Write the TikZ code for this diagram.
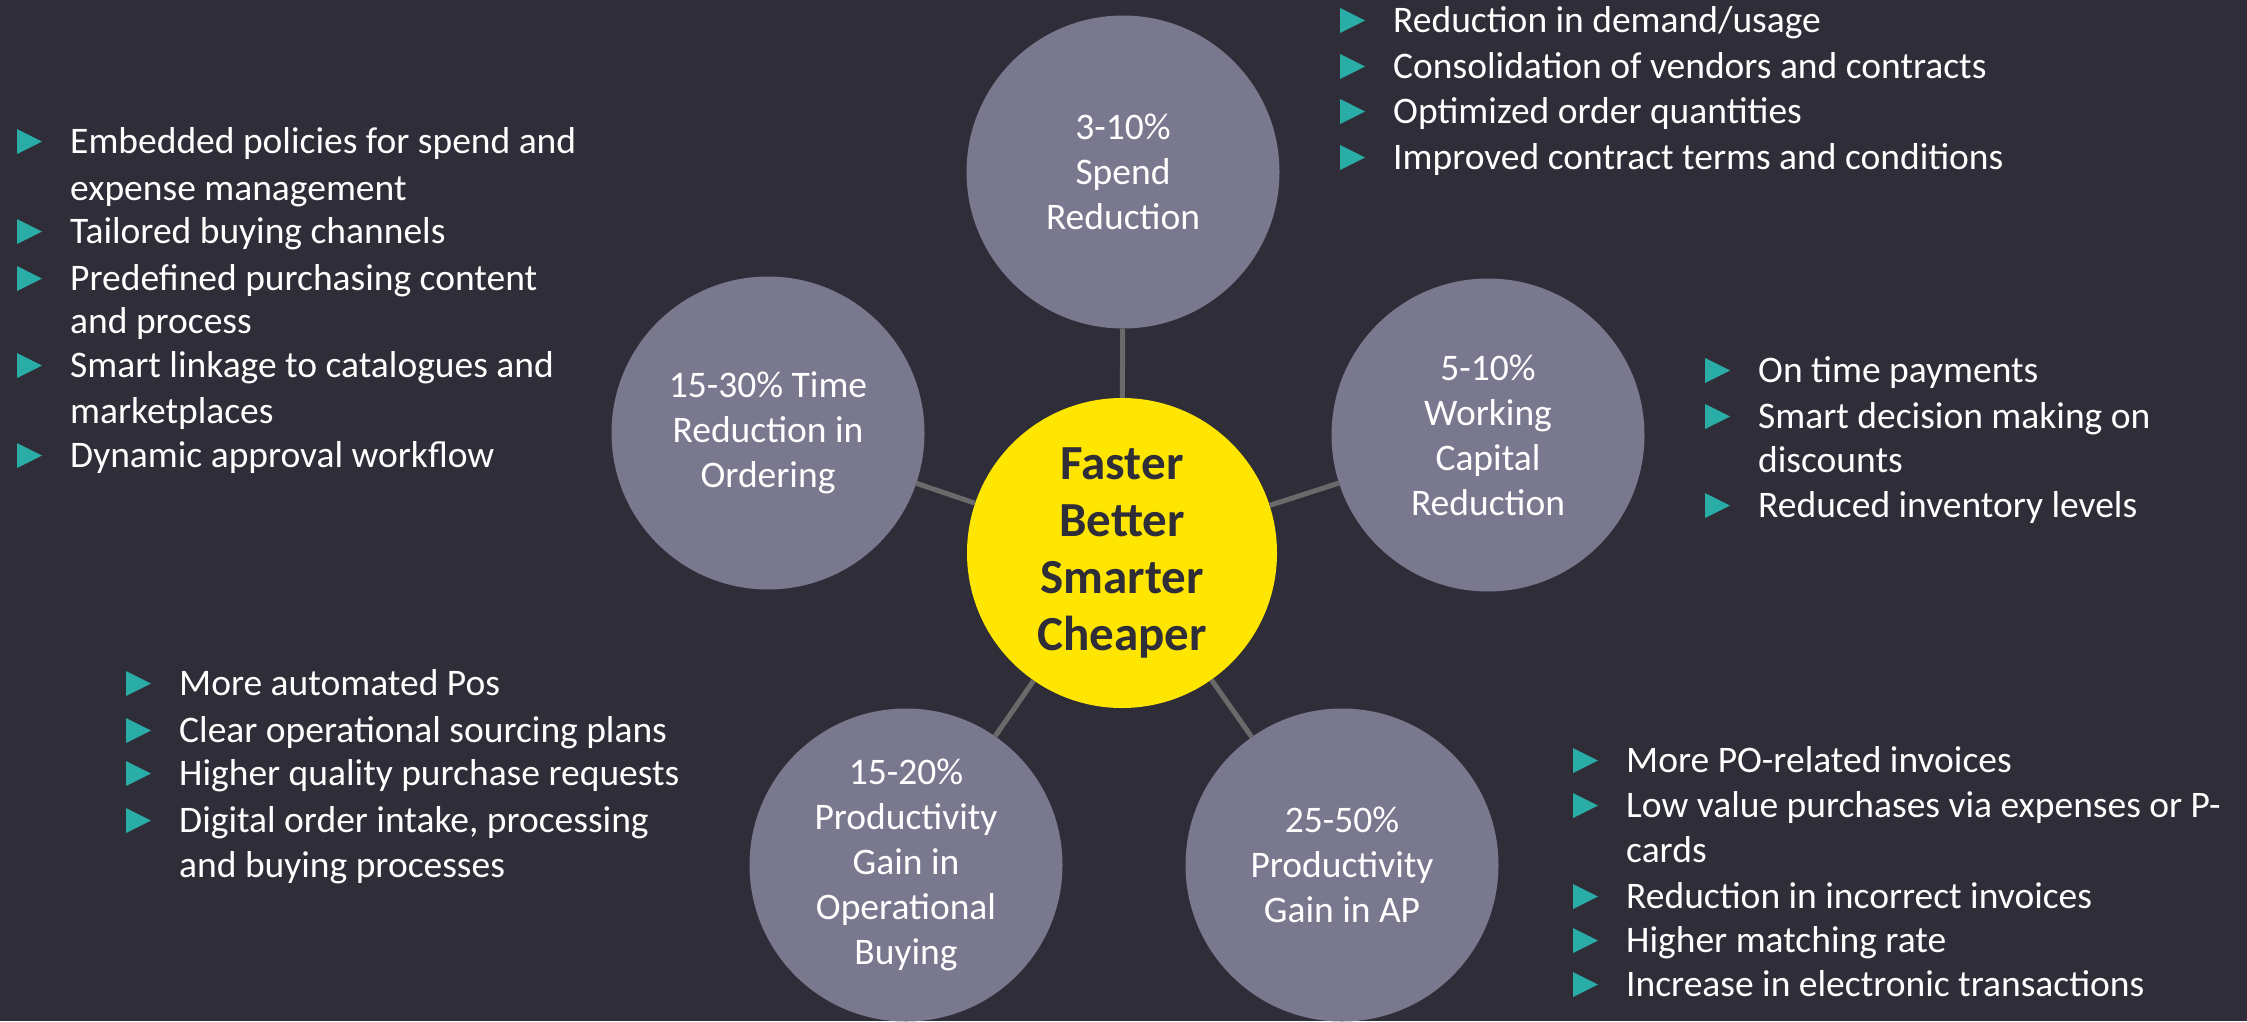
\documentclass[tikz,border=0pt]{standalone}
\usepackage{fontspec}
\setmainfont{Carlito}
\definecolor{bgc}{HTML}{2E2D38}
\definecolor{gfill}{HTML}{79788F}
\definecolor{yel}{HTML}{FFE600}
\definecolor{darkt}{HTML}{2E2D38}
\definecolor{tealc}{HTML}{2AADA6}
\definecolor{lgray}{HTML}{6A6A6A}
\tikzset{
  gcirc/.style={circle, fill=gfill, minimum size=313pt, inner sep=0pt, text=white, align=center, font=\fontsize{37.5}{45}\selectfont},
  ycirc/.style={circle, fill=yel, minimum size=310pt, inner sep=0pt, text=darkt, align=center, font=\fontsize{49}{57}\selectfont\bfseries},
  conn/.style={draw=lgray, line width=5pt},
  lst/.style={anchor=base west, inner sep=0pt, text=white, font=\fontsize{37.5}{45}\selectfont},
}
% bulleted line: name, x, y, text
\newcommand\BLine[4]{\node[lst] (#1) at (#2,#3) {#4};
  \fill[tealc, shift={(#1.base west)}] (-53,1) -- (-53,-24) -- (-28,-11.5) -- cycle;}
% continuation line: name, x, y, text
\newcommand\CLine[4]{\node[lst] (#1) at (#2,#3) {#4};}
\begin{document}
\begin{tikzpicture}[x=1pt,y=-1pt]
\fill[bgc] (0,0) rectangle (2247,1021);
\useasboundingbox (0,0) rectangle (2247,1021);

% circles
\node[ycirc] (c) at (1122,553) {Faster\\Better\\Smarter\\Cheaper};
\node[gcirc] (top) at (1123,172) {3-10\%\\Spend\\Reduction};
\node[gcirc] (lft) at (768,433) {15-30\% Time\\Reduction in\\Ordering};
\node[gcirc] (rgt) at (1488,435) {5-10\%\\Working\\Capital\\Reduction};
\node[gcirc] (bl) at (906,865) {15-20\%\\Productivity\\Gain in\\Operational\\Buying};
\node[gcirc] (br) at (1342,865) {25-50\%\\Productivity\\Gain in AP};

% connectors
\draw[conn] (c) -- (top);
\draw[conn] (c) -- (lft);
\draw[conn] (c) -- (rgt);
\draw[conn] (c) -- (bl);
\draw[conn] (c) -- (br);

% top-right list
\BLine{tr1}{1393}{32}{Reduction in demand/usage}
\BLine{tr2}{1393}{78}{Consolidation of vendors and contracts}
\BLine{tr3}{1393}{123}{Optimized order quantities}
\BLine{tr4}{1393}{169}{Improved contract terms and conditions}

% left list
\BLine{l1}{70}{153}{Embedded policies for spend and}
\CLine{l1b}{70}{200}{expense management}
\BLine{l2}{70}{243}{Tailored buying channels}
\BLine{l3}{70}{290}{Predefined purchasing content}
\CLine{l3b}{70}{333}{and process}
\BLine{l4}{70}{377}{Smart linkage to catalogues and}
\CLine{l4b}{70}{423}{marketplaces}
\BLine{l5}{70}{467}{Dynamic approval workflow}

% right list
\BLine{r1}{1758}{382}{On time payments}
\BLine{r2}{1758}{428}{Smart decision making on}
\CLine{r2b}{1758}{472}{discounts}
\BLine{r3}{1758}{517}{Reduced inventory levels}

% bottom-left list
\BLine{b1}{179}{695}{More automated Pos}
\BLine{b2}{179}{742}{Clear operational sourcing plans}
\BLine{b3}{179}{785}{Higher quality purchase requests}
\BLine{b4}{179}{832}{Digital order intake, processing}
\CLine{b4b}{179}{877}{and buying processes}

% bottom-right list
\BLine{s1}{1626}{772}{More PO-related invoices}
\BLine{s2}{1626}{817}{Low value purchases via expenses or P-}
\CLine{s2b}{1626}{862}{cards}
\BLine{s3}{1626}{908}{Reduction in incorrect invoices}
\BLine{s4}{1626}{952}{Higher matching rate}
\BLine{s5}{1626}{996}{Increase in electronic transactions}
\end{tikzpicture}
\end{document}
